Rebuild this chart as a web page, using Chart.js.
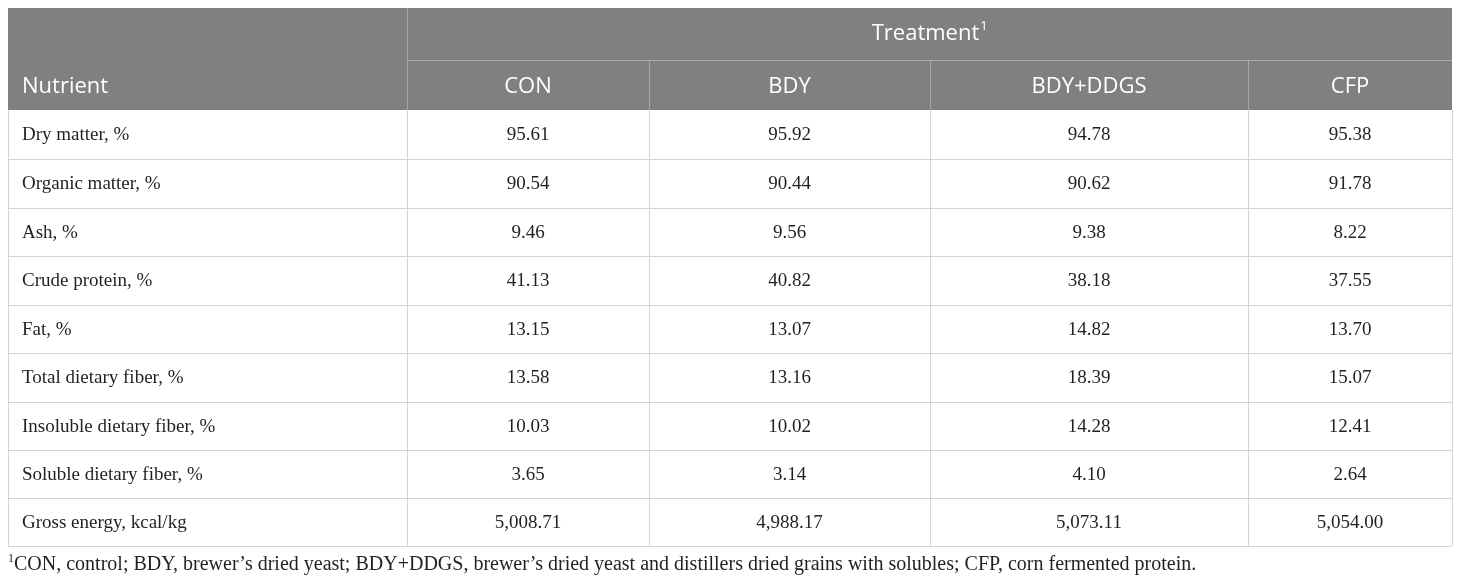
<!DOCTYPE html>
<html>
<head>
<meta charset="utf-8">
<script src="https://cdn.jsdelivr.net/npm/chart.js@4.4.0/dist/chart.umd.min.js"></script>
<style>
  body { margin: 0; background: #fff; }
  #wrap { position: relative; width: 1460px; height: 583px; }
  #note { position: absolute; left: 8px; top: 551px; font: 20px "Liberation Serif", serif; color: #231f20; white-space: nowrap; }
  #note sup { font-size: 12px; }
</style>
</head>
<body>
<div id="wrap">
  <canvas id="nutrient-table"></canvas>
  <div id="note"><sup>1</sup>CON, control; BDY, brewer’s dried yeast; BDY+DDGS, brewer’s dried yeast and distillers dried grains with solubles; CFP, corn fermented protein.</div>
</div>
<script>
// table data
var treatments = ["CON", "BDY", "BDY+DDGS", "CFP"];
var nutrients = ["Dry matter, %", "Organic matter, %", "Ash, %", "Crude protein, %", "Fat, %",
  "Total dietary fiber, %", "Insoluble dietary fiber, %", "Soluble dietary fiber, %", "Gross energy, kcal/kg"];
var conValues = [95.61, 90.54, 9.46, 41.13, 13.15, 13.58, 10.03, 3.65, 5008.71];
var bdyValues = [95.92, 90.44, 9.56, 40.82, 13.07, 13.16, 10.02, 3.14, 4988.17];
var bdyDdgsValues = [94.78, 90.62, 9.38, 38.18, 14.82, 18.39, 14.28, 4.10, 5073.11];
var cfpValues = [95.38, 91.78, 8.22, 37.55, 13.70, 15.07, 12.41, 2.64, 5054.00];

var seriesValues = [conValues, bdyValues, bdyDdgsValues, cfpValues];

// layout (scale units = px inside the table box)
var colEdges = [0, 399, 641, 922, 1240, 1444];
var rowEdges = [0, 52, 102, 151, 200, 248, 297, 345, 394, 442, 490, 538];
var headerGray = "#808080";
var fmt = new Intl.NumberFormat("en-US", { minimumFractionDigits: 2, maximumFractionDigits: 2 });

function colMid(c) { return (colEdges[c] + colEdges[c + 1]) / 2; }
function rowMid(r) { return (rowEdges[r] + rowEdges[r + 1]) / 2; }

var datasets = [{
  label: "Nutrient",
  data: nutrients.map(function(n, i) { return { x: colEdges[0] + 14, y: rowMid(i + 2), t: n }; }),
  pointRadius: 0, align: "left"
}];
treatments.forEach(function(t, j) {
  datasets.push({
    label: t,
    data: seriesValues[j].map(function(v, i) { return { x: colMid(j + 1), y: rowMid(i + 2), t: fmt.format(v) }; }),
    pointRadius: 0, align: "center"
  });
});

var tablePlugin = {
  id: "tablePlugin",
  beforeDatasetsDraw: function(chart) {
    var ctx = chart.ctx, xs = chart.scales.x, ys = chart.scales.y;
    var X = function(v) { return xs.getPixelForValue(v); };
    var Y = function(v) { return ys.getPixelForValue(v); };
    ctx.save();
    // header background
    ctx.fillStyle = headerGray;
    ctx.fillRect(X(colEdges[0]), Y(rowEdges[0]), X(colEdges[5]) - X(colEdges[0]), Y(rowEdges[2]) - Y(rowEdges[0]));
    ctx.lineWidth = 1;
    // header lines
    ctx.strokeStyle = "#a8a8a8";
    ctx.beginPath();
    ctx.moveTo(Math.round(X(colEdges[1])) + 0.5, Y(rowEdges[0]));
    ctx.lineTo(Math.round(X(colEdges[1])) + 0.5, Y(rowEdges[2]));
    ctx.moveTo(X(colEdges[1]), Math.round(Y(rowEdges[1])) + 0.5);
    ctx.lineTo(X(colEdges[5]), Math.round(Y(rowEdges[1])) + 0.5);
    for (var c = 2; c < 5; c++) {
      ctx.moveTo(Math.round(X(colEdges[c])) + 0.5, Y(rowEdges[1]));
      ctx.lineTo(Math.round(X(colEdges[c])) + 0.5, Y(rowEdges[2]));
    }
    ctx.stroke();
    // body lines
    ctx.strokeStyle = "#d4d4d4";
    ctx.beginPath();
    for (var r = 3; r < rowEdges.length; r++) {
      ctx.moveTo(X(colEdges[0]), Math.round(Y(rowEdges[r])) + 0.5);
      ctx.lineTo(X(colEdges[5]), Math.round(Y(rowEdges[r])) + 0.5);
    }
    for (var k = 0; k < colEdges.length; k++) {
      ctx.moveTo(Math.round(X(colEdges[k])) + 0.5, Y(rowEdges[2]));
      ctx.lineTo(Math.round(X(colEdges[k])) + 0.5, Y(rowEdges[11]));
    }
    ctx.stroke();
    // header text
    ctx.fillStyle = "#ffffff";
    ctx.textBaseline = "middle";
    ctx.font = "22px 'Open Sans'";
    ctx.textAlign = "left";
    ctx.fillText("Nutrient", X(colEdges[0] + 14), Y(rowMid(1)) + 2);
    ctx.textAlign = "center";
    treatments.forEach(function(t, j) {
      ctx.fillText(t, X(colMid(j + 1)), Y(rowMid(1)) + 2);
    });
    var tx = (X(colEdges[1]) + X(colEdges[5])) / 2;
    var tw = ctx.measureText("Treatment").width;
    ctx.fillText("Treatment", tx - 4, Y(rowMid(0)));
    ctx.font = "13px 'Open Sans'";
    ctx.textAlign = "left";
    ctx.fillText("1", tx - 4 + tw / 2 + 1, Y(rowMid(0)) - 8);
    ctx.restore();
  },
  afterDatasetsDraw: function(chart) {
    var ctx = chart.ctx;
    ctx.save();
    ctx.fillStyle = "#231f20";
    ctx.font = "19px 'Liberation Serif'";
    ctx.textBaseline = "middle";
    chart.data.datasets.forEach(function(ds, i) {
      var meta = chart.getDatasetMeta(i);
      ctx.textAlign = ds.align;
      meta.data.forEach(function(el, k) {
        ctx.fillText(ds.data[k].t, el.x, el.y + 1);
      });
    });
    ctx.restore();
  }
};

var ctx = document.getElementById("nutrient-table").getContext("2d");
var tableChart = new Chart(ctx, {
  type: "scatter",
  data: { datasets: datasets },
  options: {
    responsive: true,
    maintainAspectRatio: false,
    animation: false,
    layout: { padding: { left: 8, right: 8, top: 8, bottom: 37 } },
    plugins: { legend: { display: false }, tooltip: { enabled: false } },
    scales: {
      x: { type: "linear", min: colEdges[0], max: colEdges[5], display: false },
      y: { type: "linear", min: rowEdges[0], max: rowEdges[11], reverse: true, display: false }
    }
  },
  plugins: [tablePlugin]
});
</script>
</body>
</html>
